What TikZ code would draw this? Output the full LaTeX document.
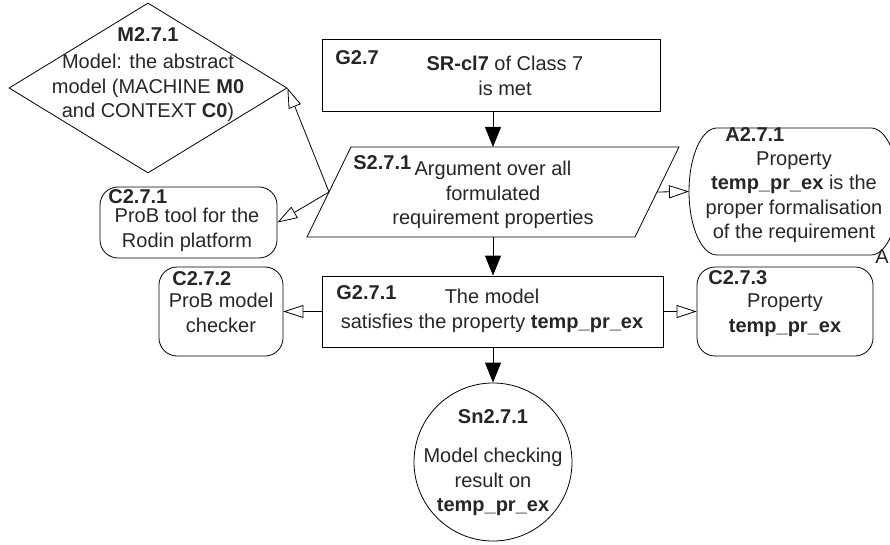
\documentclass[tikz,border=0pt]{standalone}
\usepackage{fontspec}
\setmainfont{Liberation Sans}
\usetikzlibrary{arrows.meta,shapes.geometric}

\begin{document}
\begin{tikzpicture}[x=1pt,y=-1pt,
  line width=0.8pt,
  every node/.style={inner sep=0pt, text=black!85, font=\fontsize{20}{24.5}\selectfont},
  goalbox/.style={draw, rectangle, minimum width=#1, minimum height=71pt},
  ctxbox/.style={draw, rectangle, rounded corners=18pt},
  bodytext/.style={align=center},
  idtext/.style={anchor=west, font=\fontsize{20}{24}\selectfont\bfseries},
  solved/.style={-{Triangle[length=20pt,width=16pt]}},
  incontext/.style={-{Triangle[open,length=20pt,width=13pt,fill=white]}},
]
\useasboundingbox (0,0) rectangle (890,545);

% ---- goal G2.7 ----
\node[goalbox=338pt, minimum height=72pt] (G27) at (491,75) {};
\node[idtext] (G27id) at (335,58) {G2.7};
\node[bodytext] (G27txt) at (505,76) {\textbf{SR-cl7} of Class 7\\is met};

% ---- strategy S2.7.1 (parallelogram) ----
\draw (351,147) -- (679,147) -- (635,237) -- (307,237) -- cycle;
\coordinate (S271n) at (493,147);
\coordinate (S271s) at (493,237);
\coordinate (S271w) at (329,192);
\coordinate (S271e) at (657,192);
\node[idtext] (S271id) at (353,163) {S2.7.1};
\node[bodytext] (S271txt) at (493,195) {Argument over all\\formulated\\requirement properties};

% ---- model M2.7.1 (diamond) ----
\node[draw, diamond, minimum width=278pt, minimum height=170pt] (M271) at (148,88) {};
\node[idtext, anchor=center] (M271id) at (148,35) {M2.7.1};
\node[bodytext] (M271txt) at (148,88) {Model: the abstract\\model (MACHINE \textbf{M0}\\and CONTEXT \textbf{C0})};

% ---- context C2.7.1 ----
\node[ctxbox, minimum width=177pt, minimum height=71pt] (C271) at (188.5,222.5) {};
\node[idtext] (C271id) at (108,196.5) {C2.7.1};
\node[bodytext] (C271txt) at (187,230) {ProB tool for the\\Rodin platform};

% ---- assumption A2.7.1 ----
\draw (717,128) -- (871,128)
  arc[start angle=90, end angle=-90, x radius=28pt, y radius=63.5pt]
  -- (717,255)
  arc[start angle=270, end angle=90, x radius=28pt, y radius=63.5pt] -- cycle;
\coordinate (A271w) at (689,191.5);
\node[idtext] (A271id) at (725,135) {A2.7.1};
\node[bodytext] (A271txt) at (794,197) {Property\\\textbf{temp\_pr\_ex} is the\\proper formalisation\\of the requirement};
\node (A271mark) at (882,257) {A};

% ---- goal G2.7.1 ----
\node[goalbox=341pt] (G271) at (492.5,311.5) {};
\node[idtext] (G271id) at (336,293) {G2.7.1};
\node[bodytext] (G271txt) at (492,311) {The model\\satisfies the property \textbf{temp\_pr\_ex}};

% ---- context C2.7.2 ----
\node[ctxbox, minimum width=124pt, minimum height=89pt] (C272) at (221,311.5) {};
\node[idtext] (C272id) at (172,279) {C2.7.2};
\node[bodytext] (C272txt) at (221,313) {ProB model\\checker};

% ---- context C2.7.3 ----
\node[ctxbox, minimum width=176pt, minimum height=89pt] (C273) at (785,311.5) {};
\node[idtext] (C273id) at (708,278) {C2.7.3};
\node[bodytext] (C273txt) at (785,315) {Property\\\textbf{temp\_pr\_ex}};

% ---- solution Sn2.7.1 ----
\node[draw, circle, minimum size=158pt] (Sn271) at (493,462) {};
\node[idtext, anchor=center] (Sn271id) at (493,417) {Sn2.7.1};
\node[bodytext] (Sn271txt) at (493,482) {Model checking\\result on\\\textbf{temp\_pr\_ex}};

% ---- connectors ----
\draw[solved] (S271n |- G27.south) -- (S271n);
\draw[solved] (S271s) -- (S271s |- G271.north);
\draw[solved] (G271.south -| Sn271.north) -- (Sn271.north);
\draw[incontext] (S271w) -- (M271.east);
\draw[incontext] (S271w) -- (C271.east);
\draw[incontext] (S271e) -- (A271w);
\draw[incontext] (G271.west) -- (C272.east);
\draw[incontext] (G271.east) -- (C273.west);
\end{tikzpicture}
\end{document}
